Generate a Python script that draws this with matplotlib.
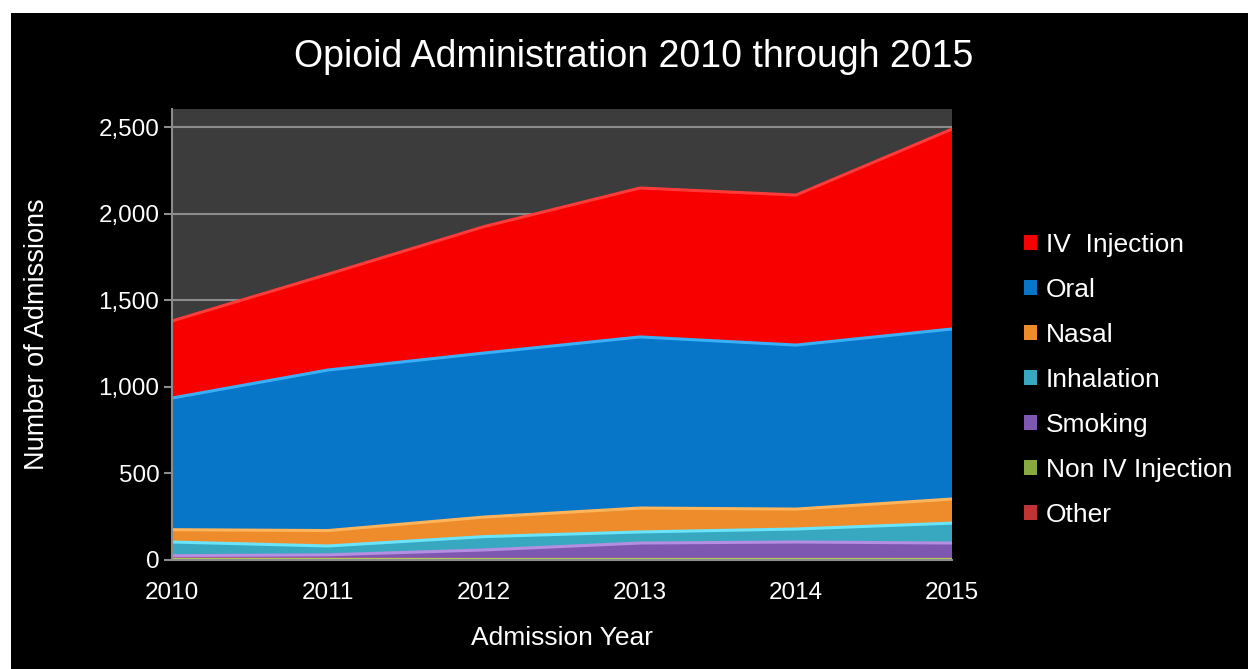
import matplotlib
matplotlib.use("Agg")
import matplotlib.pyplot as plt
import numpy as np
from matplotlib.patches import Rectangle, Patch

plt.rcParams['font.family'] = ['Liberation Sans', 'DejaVu Sans']

years = [2010, 2011, 2012, 2013, 2014, 2015]
series_names = ["IV  Injection", "Oral", "Nasal", "Inhalation", "Smoking", "Non IV Injection", "Other"]
iv_injection = [445, 553, 730, 860, 866, 1154]
oral = [760, 927, 947, 988, 947, 982]
nasal = [71, 89, 113, 138, 115, 139]
inhalation = [79, 51, 77, 64, 75, 115]
smoking = [17, 22, 50, 90, 96, 90]
non_iv_injection = [3, 3, 4, 4, 4, 4]
other = [5, 5, 4, 4, 4, 4]
yticks = [0, 500, 1000, 1500, 2000, 2500]

colors = ["#f80000", "#0876c8", "#ee8c2c", "#38a8c0", "#7e58b0", "#88aa40", "#c03434"]
highlights = ["#ff3a3a", "#38b0f8", "#ffb45a", "#6ae4fa", "#b48ee0", "#b0d060", "#e06060"]

data = [iv_injection, oral, nasal, inhalation, smoking, non_iv_injection, other]

fig = plt.figure(figsize=(12.48, 6.69), dpi=100)
fig.patch.set_facecolor("white")
fig.add_artist(Rectangle((11/1248, 0), 1 - 11/1248, (669 - 13)/669,
                         transform=fig.transFigure, facecolor="black",
                         edgecolor="none", zorder=-10))

ax = fig.add_axes([172/1248, (669-560)/669, (952-172)/1248, (560-109)/669])
ax.set_facecolor("#3c3c3c")

# stack from bottom (Other) to top (IV Injection)
bottom_first = data[::-1]
cols_bf = colors[::-1]
hl_bf = highlights[::-1]
ax.stackplot(years, *bottom_first, colors=cols_bf, linewidth=0, zorder=3)
cum = np.cumsum(np.array(bottom_first, dtype=float), axis=0)
for i in range(len(bottom_first)):
    ax.plot(years, cum[i], color=hl_bf[i], lw=2.2, zorder=4, solid_joinstyle="round")

ax.set_xlim(years[0], years[-1])
ax.set_ylim(0, 2604)
ax.set_yticks(yticks)
ax.set_yticklabels([f"{v:,}" for v in yticks])
ax.set_xticks(years)
ax.grid(axis="y", color="#8c8c8c", lw=1.5, zorder=1)
ax.set_axisbelow(True)

for s in ["top", "right"]:
    ax.spines[s].set_visible(False)
for s in ["left", "bottom"]:
    ax.spines[s].set_color("#8c8c8c")
    ax.spines[s].set_linewidth(1.5)
    ax.spines[s].set_zorder(5)

ax.tick_params(axis="y", colors="#8c8c8c", labelcolor="white", labelsize=17.5,
               length=6, width=1.5, pad=3)
ax.tick_params(axis="x", colors="#8c8c8c", labelcolor="white", labelsize=17.5,
               length=0, pad=16)

ax.set_xlabel("Admission Year", color="white", fontsize=19, labelpad=16)
ax.set_ylabel("Number of Admissions", color="white", fontsize=19.5, labelpad=35)

fig.text(634/1248, 1 - 57/669, "Opioid Administration 2010 through 2015",
         color="white", fontsize=27, ha="center", va="center")

handles = [Patch(facecolor=c, edgecolor="none") for c in colors]
leg = fig.legend(handles, series_names, loc="upper left",
                 bbox_to_anchor=(1013/1248, 1 - 222/669),
                 frameon=False, fontsize=19, labelcolor="white",
                 handlelength=0.5, handleheight=0.5, handletextpad=0.35,
                 labelspacing=0.8, borderaxespad=0)

fig.savefig("out.png", dpi=100, facecolor=fig.get_facecolor())
